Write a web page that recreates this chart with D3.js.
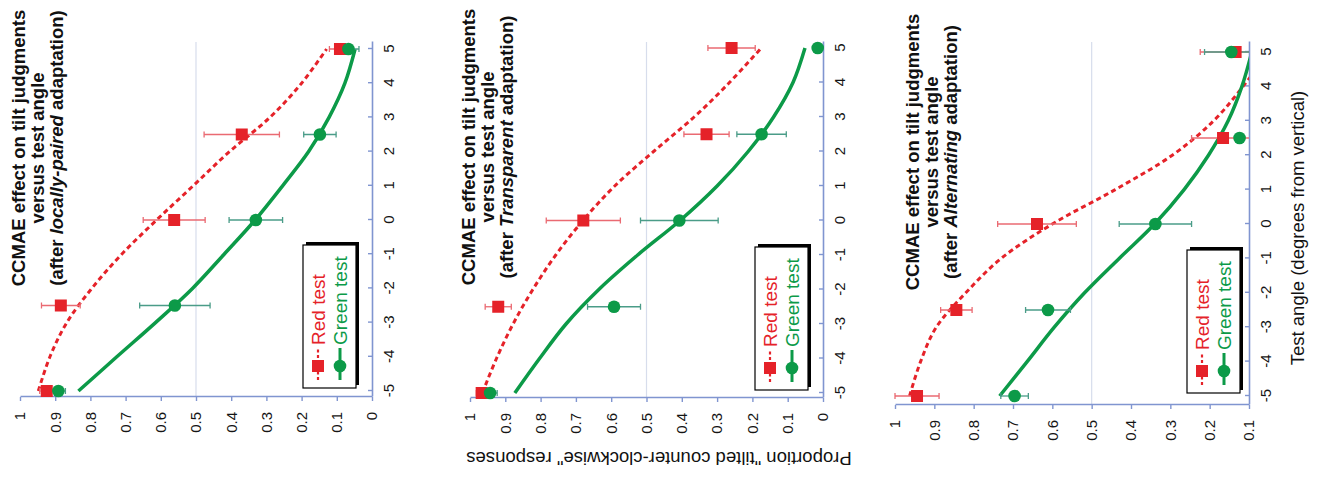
<!DOCTYPE html>
<html>
<head>
<meta charset="utf-8">
<script src="https://cdn.jsdelivr.net/npm/d3@7"></script>
<style>
  body { margin: 0; background: #fff; }
  text { font-family: "Liberation Sans", Arial, sans-serif; }
</style>
</head>
<body>
<script>
const W = 1318, H = 481;

// test angles (deg) of the measured points and of the fitted curves
const angles = [-5, -2.5, 0, 2.5, 5];
const fitAngles = [-5, -4, -3, -2, -1, 0, 1, 2, 3, 4, 5];
const angleTicks = [-5, -4, -3, -2, -1, 0, 1, 2, 3, 4, 5];
const propTicks = [0, 0.1, 0.2, 0.3, 0.4, 0.5, 0.6, 0.7, 0.8, 0.9, 1];
const propTicksAlt = [0.1, 0.2, 0.3, 0.4, 0.5, 0.6, 0.7, 0.8, 0.9, 1];

const titleLine1 = 'CCMAE effect on tilt judgments';
const titleLine2 = 'versus test angle';
const adaptations = ['locally-paired', 'Transparent', 'Alternating'];
const seriesNames = ['Red test', 'Green test'];
const xLabel = 'Test angle (degrees from vertical)';
const yLabel = 'Proportion "tilted counter-clockwise" responses';

// locally-paired adaptation
const redPaired = [0.924, 0.884, 0.562, 0.37, 0.091];
const redPairedErr = [0.02, 0.055, 0.088, 0.107, 0.03];
const redPairedFit = [0.948, 0.915, 0.867, 0.796, 0.711, 0.612, 0.508, 0.405, 0.29, 0.2, 0.129];
const greenPaired = [0.891, 0.56, 0.33, 0.148, 0.067];
const greenPairedErr = [0.02, 0.1, 0.076, 0.046, 0.03];
const greenPairedFit = [0.834, 0.725, 0.615, 0.51, 0.42, 0.332, 0.254, 0.18, 0.122, 0.077, 0.048];

// transparent adaptation
const redTransp = [0.967, 0.92, 0.679, 0.33, 0.259];
const redTranspErr = [0.015, 0.037, 0.105, 0.064, 0.067];
const redTranspFit = [0.965, 0.925, 0.878, 0.822, 0.757, 0.68, 0.59, 0.48, 0.365, 0.265, 0.175];
const greenTransp = [0.943, 0.592, 0.407, 0.174, 0.015];
const greenTranspErr = [0.02, 0.075, 0.11, 0.07, 0];
const greenTranspFit = [0.873, 0.803, 0.728, 0.635, 0.525, 0.405, 0.3, 0.212, 0.14, 0.085, 0.051];

// alternating adaptation
const redAlt = [0.944, 0.844, 0.639, 0.166, 0.134];
const redAltErr = [0.056, 0.04, 0.1, 0.08, 0.09];
const redAltFit = [0.963, 0.935, 0.895, 0.82, 0.73, 0.6, 0.44, 0.295, 0.19, 0.115, 0.05];
const greenAlt = [0.696, 0.611, 0.338, 0.124, 0.145];
const greenAltErr = [0.035, 0.057, 0.092, 0, 0.068];
const greenAltFit = [0.734, 0.664, 0.595, 0.518, 0.43, 0.34, 0.265, 0.203, 0.153, 0.118, 0.093];

const panels = [
  { adapt: adaptations[0], red: [redPaired, redPairedErr, redPairedFit], green: [greenPaired, greenPairedErr, greenPairedFit] },
  { adapt: adaptations[1], red: [redTransp, redTranspErr, redTranspFit], green: [greenTransp, greenTranspErr, greenTranspFit] },
  { adapt: adaptations[2], red: [redAlt, redAltErr, redAltFit], green: [greenAlt, greenAltErr, greenAltFit] }
];

// layout in the un-rotated frame (481 wide, 1318 tall)
const layouts = [
  { top: 20, bottom: 372, axisL: 84, axisR: 439, xm5: 90, xp5: 432, pDom: [0, 1], ticks: propTicks, titleU: 333, titleV: 25, legend: [93, 303] },
  { top: 470, bottom: 823, axisL: 83, axisR: 439, xm5: 88, xp5: 433, pDom: [0, 1], ticks: propTicks, titleU: 334, titleV: 475, legend: [91, 755] },
  { top: 895, bottom: 1249, axisL: 76, axisR: 439, xm5: 85, xp5: 429, pDom: [0.1, 1], ticks: propTicksAlt, titleU: 329, titleV: 919, legend: [88, 1187] }
];

const redCol = '#e52229', greenCol = '#0c9a48';
const redErrCol = '#ea6a72', greenErrCol = '#4a9c88';
const axisCol = '#8095d0';

const svg = d3.select('body').append('svg')
    .attr('width', W)
    .attr('height', H);

// the whole figure lies on its side
const root = svg.append('g')
    .attr('transform', `translate(0,${H}) rotate(-90)`);

panels.forEach((p, i) => {
    const L = layouts[i];
    const g = root.append('g');

    const x0 = d3.scaleLinear().domain([-5, 5]).range([L.xm5, L.xp5]);
    const x = d3.scaleLinear()
        .domain([x0.invert(L.axisL), x0.invert(L.axisR)])
        .range([L.axisL, L.axisR]);
    const y = d3.scaleLinear().domain(L.pDom).range([L.bottom, L.top]);

    g.append('line')
        .attr('x1', L.axisL).attr('x2', L.axisR)
        .attr('y1', y(0.5)).attr('y2', y(0.5))
        .attr('stroke', '#d7ddec')
        .attr('stroke-width', 1.2);

    const xAxis = g.append('g')
        .attr('transform', `translate(0,${L.bottom})`)
        .call(d3.axisBottom(x).tickValues(angleTicks).tickFormat(String)
            .tickSizeInner(-4).tickSizeOuter(0).tickPadding(11));
    const yAxis = g.append('g')
        .attr('transform', `translate(${L.axisL},0)`)
        .call(d3.axisLeft(y).tickValues(L.ticks).tickFormat(String)
            .tickSizeInner(4).tickSizeOuter(0).tickPadding(11));

    [xAxis, yAxis].forEach(a => {
        a.select('.domain').attr('stroke', axisCol).attr('stroke-width', 1.6);
        a.selectAll('.tick line').attr('stroke', axisCol).attr('stroke-width', 1.4);
        a.selectAll('.tick text')
            .attr('fill', '#151515')
            .style('font-size', '15px')
            .style('font-family', '"Liberation Sans", Arial, sans-serif');
    });

    const clipId = 'clip' + i;
    g.append('clipPath').attr('id', clipId)
        .append('rect')
        .attr('x', L.axisL).attr('y', L.top - 12)
        .attr('width', L.axisR - L.axisL).attr('height', L.bottom - L.top + 12);

    const line = d3.line()
        .x(d => x(d[0]))
        .y(d => y(d[1]))
        .curve(d3.curveCatmullRom.alpha(0.5));

    const series = [
        { vals: p.red, col: redCol, errCol: redErrCol, dash: '5,3.5', w: 3 },
        { vals: p.green, col: greenCol, errCol: greenErrCol, dash: null, w: 3.5 }
    ];

    // fitted curves
    series.forEach(s => {
        g.append('path')
            .datum(fitAngles.map((a, k) => [a, s.vals[2][k]]))
            .attr('clip-path', `url(#${clipId})`)
            .attr('fill', 'none')
            .attr('stroke', s.col)
            .attr('stroke-width', s.w)
            .attr('stroke-dasharray', s.dash)
            .attr('d', line);
    });

    // error bars
    series.forEach(s => {
        const eb = g.append('g').attr('clip-path', `url(#${clipId})`)
            .selectAll('g')
            .data(angles.map((a, k) => ({ a, v: s.vals[0][k], e: s.vals[1][k] })).filter(d => d.e > 0))
            .enter().append('g')
            .attr('stroke', s.errCol)
            .attr('stroke-width', 1.3);
        eb.append('line')
            .attr('x1', d => x(d.a)).attr('x2', d => x(d.a))
            .attr('y1', d => y(d.v - d.e)).attr('y2', d => y(d.v + d.e));
        [-1, 1].forEach(sg => {
            eb.append('line')
                .attr('x1', d => x(d.a) - 3).attr('x2', d => x(d.a) + 3)
                .attr('y1', d => y(d.v + sg * d.e)).attr('y2', d => y(d.v + sg * d.e));
        });
    });

    // markers
    g.selectAll('rect.red')
        .data(angles.map((a, k) => [a, p.red[0][k]]))
        .enter().append('rect')
        .attr('class', 'red')
        .attr('x', d => x(d[0]) - 6).attr('y', d => y(d[1]) - 6)
        .attr('width', 12).attr('height', 12)
        .attr('fill', redCol);
    g.selectAll('circle.green')
        .data(angles.map((a, k) => [a, p.green[0][k]]))
        .enter().append('circle')
        .attr('class', 'green')
        .attr('cx', d => x(d[0])).attr('cy', d => y(d[1]))
        .attr('r', 6.3)
        .attr('fill', greenCol);

    // title
    const t = g.append('text')
        .attr('text-anchor', 'middle')
        .attr('font-weight', 'bold')
        .attr('font-size', 18.5)
        .attr('fill', '#111');
    t.append('tspan').attr('x', L.titleU).attr('y', L.titleV).text(titleLine1);
    t.append('tspan').attr('x', L.titleU).attr('y', L.titleV + 19).text(titleLine2);
    const t3 = t.append('tspan').attr('x', L.titleU).attr('y', L.titleV + 38);
    t3.append('tspan').text('(after ');
    t3.append('tspan').attr('font-style', 'italic').text(p.adapt);
    t3.append('tspan').text(' adaptation)');

    // legend
    const lg = g.append('g').attr('transform', `translate(${L.legend[0]},${L.legend[1]})`);
    const lw = 143, lh = 53;
    lg.append('rect').attr('x', 3).attr('y', 3).attr('width', lw).attr('height', lh).attr('fill', '#000');
    lg.append('rect').attr('width', lw).attr('height', lh)
        .attr('fill', '#fff').attr('stroke', '#000').attr('stroke-width', 1.2);
    series.forEach((s, k) => {
        const cy = 15 + k * 22;
        lg.append('line')
            .attr('x1', 8).attr('x2', 40).attr('y1', cy).attr('y2', cy)
            .attr('stroke', s.col).attr('stroke-width', k === 0 ? 2.2 : 3)
            .attr('stroke-dasharray', k === 0 ? '3,2.5' : null);
        if (k === 0) {
            lg.append('rect').attr('x', 16).attr('y', cy - 6).attr('width', 12).attr('height', 12).attr('fill', s.col);
        } else {
            lg.append('circle').attr('cx', 22).attr('cy', cy).attr('r', 6.3).attr('fill', s.col);
        }
        lg.append('text')
            .attr('x', 43).attr('y', cy + 6.5)
            .attr('font-size', 19)
            .attr('fill', s.col)
            .text(seriesNames[k]);
    });
});

// axis titles
root.append('text')
    .attr('transform', 'translate(29,659) rotate(-90)')
    .attr('text-anchor', 'middle')
    .attr('font-size', 18.5)
    .attr('fill', '#111')
    .text(yLabel);

root.append('text')
    .attr('x', 253).attr('y', 1304)
    .attr('text-anchor', 'middle')
    .attr('font-size', 18.5)
    .attr('fill', '#111')
    .text(xLabel);
</script>
</body>
</html>
